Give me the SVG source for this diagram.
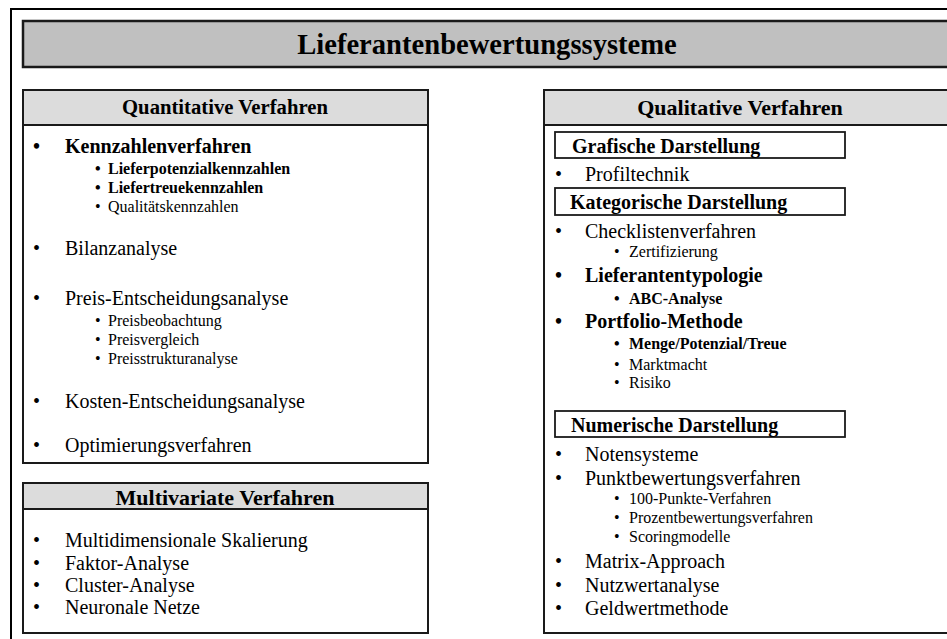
<svg xmlns="http://www.w3.org/2000/svg" width="947" height="639" viewBox="0 0 947 639">
<style>
text{font-family:"Liberation Serif","Times New Roman",serif;fill:#000}
.t{font-size:28.6px;font-weight:bold;text-anchor:middle}
.h{font-weight:bold;text-anchor:middle}
.m{font-size:20px}
.mb{font-size:20px;font-weight:bold}
.s{font-size:16px}
.sb{font-size:16px;font-weight:bold}
.frame{fill:none;stroke:#000;stroke-width:2}
.box{fill:#fff;stroke:#1a1a1a;stroke-width:2}
.hdr{fill:#dcdcdc;stroke:#1a1a1a;stroke-width:2}
.ttl{fill:#c0c0c0;stroke:#1a1a1a;stroke-width:2.5}
.sub{fill:#fff;stroke:#1a1a1a;stroke-width:1.8}
</style>
<rect x="0" y="0" width="947" height="639" fill="#fff"/>
<rect class="frame" x="11" y="9" width="960" height="660"/>

<g id="title">
<rect class="ttl" x="23" y="21" width="940" height="46"/>
<text class="t" x="487" y="54">Lieferantenbewertungssysteme</text>
</g>

<g id="quantitative">
<rect class="box" x="23" y="90" width="405" height="373"/>
<rect class="hdr" x="23" y="90" width="405" height="35"/>
<text class="h" x="225" y="114" font-size="20.7">Quantitative Verfahren</text>
<text class="mb" x="33" y="153">•</text><text class="mb" x="65" y="153">Kennzahlenverfahren</text>
<text class="sb" x="95" y="174">•</text><text class="sb" x="108" y="174">Lieferpotenzialkennzahlen</text>
<text class="sb" x="95" y="193">•</text><text class="sb" x="108" y="193">Liefertreuekennzahlen</text>
<text class="s" x="95" y="212">•</text><text class="s" x="108" y="212">Qualitätskennzahlen</text>
<text class="m" x="33" y="255">•</text><text class="m" x="65" y="255">Bilanzanalyse</text>
<text class="m" x="33" y="305">•</text><text class="m" x="65" y="305">Preis-Entscheidungsanalyse</text>
<text class="s" x="95" y="326">•</text><text class="s" x="108" y="326">Preisbeobachtung</text>
<text class="s" x="95" y="345">•</text><text class="s" x="108" y="345">Preisvergleich</text>
<text class="s" x="95" y="364">•</text><text class="s" x="108" y="364">Preisstrukturanalyse</text>
<text class="m" x="33" y="408">•</text><text class="m" x="65" y="408">Kosten-Entscheidungsanalyse</text>
<text class="m" x="33" y="452">•</text><text class="m" x="65" y="452">Optimierungsverfahren</text>
</g>

<g id="multivariate">
<rect class="box" x="23" y="483" width="405" height="150"/>
<rect class="hdr" x="23" y="483" width="405" height="26"/>
<text class="h" x="225" y="505" font-size="22">Multivariate Verfahren</text>
<text class="m" x="33" y="547">•</text><text class="m" x="65" y="547">Multidimensionale Skalierung</text>
<text class="m" x="33" y="570">•</text><text class="m" x="65" y="570">Faktor-Analyse</text>
<text class="m" x="33" y="592">•</text><text class="m" x="65" y="592">Cluster-Analyse</text>
<text class="m" x="33" y="614">•</text><text class="m" x="65" y="614">Neuronale Netze</text>
</g>

<g id="qualitative">
<rect class="box" x="544" y="90" width="420" height="543"/>
<rect class="hdr" x="544" y="90" width="420" height="35"/>
<text class="h" x="740" y="115" font-size="22">Qualitative Verfahren</text>

<g id="grafisch">
<rect class="sub" x="555" y="132" width="290" height="26"/>
<text class="mb" x="572" y="153">Grafische Darstellung</text>
</g>
<text class="m" x="555" y="181">•</text><text class="m" x="585" y="181">Profiltechnik</text>

<g id="kategorisch">
<rect class="sub" x="555" y="188" width="290" height="27"/>
<text class="mb" x="570" y="209">Kategorische Darstellung</text>
</g>
<text class="m" x="555" y="238">•</text><text class="m" x="585" y="238">Checklistenverfahren</text>
<text class="s" x="614" y="257">•</text><text class="s" x="629" y="257">Zertifizierung</text>
<text class="mb" x="555" y="282">•</text><text class="mb" x="585" y="282">Lieferantentypologie</text>
<text class="sb" x="614" y="304">•</text><text class="sb" x="629" y="304">ABC-Analyse</text>
<text class="mb" x="555" y="328">•</text><text class="mb" x="585" y="328">Portfolio-Methode</text>
<text class="sb" x="614" y="349">•</text><text class="sb" x="629" y="349">Menge/Potenzial/Treue</text>
<text class="s" x="614" y="370">•</text><text class="s" x="629" y="370">Marktmacht</text>
<text class="s" x="614" y="388">•</text><text class="s" x="629" y="388">Risiko</text>

<g id="numerisch">
<rect class="sub" x="555" y="411" width="290" height="26"/>
<text class="mb" x="571" y="432">Numerische Darstellung</text>
</g>
<text class="m" x="555" y="461">•</text><text class="m" x="585" y="461">Notensysteme</text>
<text class="m" x="555" y="485">•</text><text class="m" x="585" y="485">Punktbewertungsverfahren</text>
<text class="s" x="614" y="504">•</text><text class="s" x="629" y="504">100-Punkte-Verfahren</text>
<text class="s" x="614" y="523">•</text><text class="s" x="629" y="523">Prozentbewertungsverfahren</text>
<text class="s" x="614" y="542">•</text><text class="s" x="629" y="542">Scoringmodelle</text>
<text class="m" x="555" y="568">•</text><text class="m" x="585" y="568">Matrix-Approach</text>
<text class="m" x="555" y="592">•</text><text class="m" x="585" y="592">Nutzwertanalyse</text>
<text class="m" x="555" y="615">•</text><text class="m" x="585" y="615">Geldwertmethode</text>
</g>
</svg>
